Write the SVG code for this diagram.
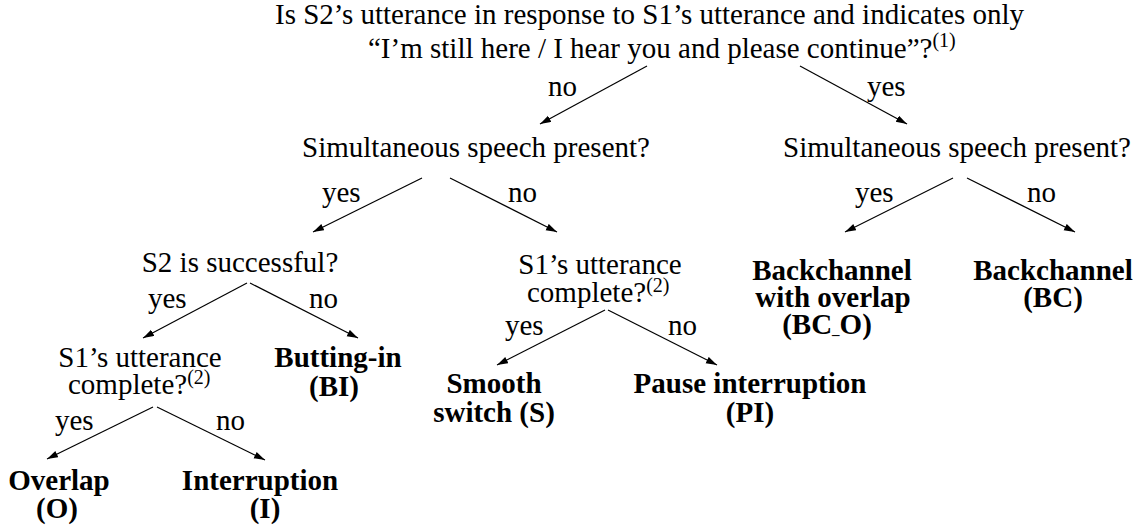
<svg xmlns="http://www.w3.org/2000/svg" width="1142" height="530" viewBox="0 0 1142 530">
  <style>
    text { font-family: "Liberation Serif", "Times New Roman", serif; font-size: 29px; fill: #000; }
    .q { text-anchor: start; }
    .c { text-anchor: middle; }
    .leaf { font-weight: bold; text-anchor: middle; }
    .sup { font-size: 20px; }
    .us { font-size: 15px; }
    .edge { stroke: #000; stroke-width: 1.2; fill: none; marker-end: url(#arrow); }
  </style>
  <defs>
    <marker id="arrow" markerUnits="userSpaceOnUse" markerWidth="12" markerHeight="8" refX="11" refY="3.5" orient="auto">
      <path d="M0,0 L11,3.5 L0,7 z" fill="#000"/>
    </marker>
  </defs>
  <rect width="1142" height="530" fill="#fff"/>

  <!-- decision edges and their yes/no labels -->
  <g id="connectors">
    <line class="edge" x1="647" y1="66" x2="540" y2="124"/>
    <line class="edge" x1="800" y1="66" x2="907" y2="124"/>
    <text class="q" x="548" y="96">no</text>
    <text class="q" x="867" y="96">yes</text>

    <line class="edge" x1="422" y1="178" x2="313" y2="232"/>
    <line class="edge" x1="450" y1="178" x2="557" y2="232"/>
    <text class="q" x="322" y="202">yes</text>
    <text class="q" x="508" y="202">no</text>

    <line class="edge" x1="953" y1="178" x2="845" y2="232"/>
    <line class="edge" x1="967" y1="178" x2="1075" y2="232"/>
    <text class="q" x="855" y="202">yes</text>
    <text class="q" x="1027" y="202">no</text>

    <line class="edge" x1="247" y1="283" x2="143" y2="338"/>
    <line class="edge" x1="250" y1="283" x2="358" y2="338"/>
    <text class="q" x="148" y="308">yes</text>
    <text class="q" x="309" y="308">no</text>

    <line class="edge" x1="153" y1="407" x2="47" y2="459"/>
    <line class="edge" x1="157" y1="407" x2="265" y2="460"/>
    <text class="q" x="55" y="430">yes</text>
    <text class="q" x="216" y="430">no</text>

    <line class="edge" x1="605" y1="310" x2="497" y2="365"/>
    <line class="edge" x1="608" y1="310" x2="717" y2="365"/>
    <text class="q" x="505" y="335">yes</text>
    <text class="q" x="668" y="335">no</text>
  </g>

  <!-- root question -->
  <g id="root">
    <text class="q" x="275" y="24">Is S2’s utterance in response to S1’s utterance and indicates only</text>
    <text class="q" x="368" y="58">“I’m still here / I hear you and please continue”?<tspan class="sup" dy="-11">(1)</tspan></text>
  </g>

  <g id="simultaneous-no">
    <text class="c" x="476" y="157">Simultaneous speech present?</text>
  </g>

  <g id="simultaneous-yes">
    <text class="c" x="957" y="157">Simultaneous speech present?</text>
  </g>

  <g id="s2-successful">
    <text class="c" x="240" y="272">S2 is successful?</text>
  </g>

  <g id="complete-overlap">
    <text class="c" x="140" y="367">S1’s utterance</text>
    <text class="q" x="68" y="394">complete?<tspan class="sup" dy="-10">(2)</tspan></text>
  </g>

  <g id="complete-gap">
    <text class="c" x="600" y="274">S1’s utterance</text>
    <text class="q" x="527" y="302">complete?<tspan class="sup" dy="-10">(2)</tspan></text>
  </g>

  <g id="leaf-butting-in">
    <text class="leaf" x="338" y="367">Butting-in</text>
    <text class="leaf" x="334" y="396">(BI)</text>
  </g>

  <g id="leaf-overlap">
    <text class="leaf" x="59" y="490">Overlap</text>
    <text class="leaf" x="57" y="518">(O)</text>
  </g>

  <g id="leaf-interruption">
    <text class="leaf" x="260" y="490">Interruption</text>
    <text class="leaf" x="265" y="518">(I)</text>
  </g>

  <g id="leaf-smooth-switch">
    <text class="leaf" x="494" y="393">Smooth</text>
    <text class="leaf" x="494" y="422">switch (S)</text>
  </g>

  <g id="leaf-pause-interruption">
    <text class="leaf" x="750" y="393">Pause interruption</text>
    <text class="leaf" x="750" y="422">(PI)</text>
  </g>

  <g id="leaf-backchannel-overlap">
    <text class="leaf" x="832" y="280">Backchannel</text>
    <text class="leaf" x="833" y="307">with overlap</text>
    <text class="leaf" x="827" y="334">(BC<tspan class="us">_</tspan>O)</text>
  </g>

  <g id="leaf-backchannel">
    <text class="leaf" x="1053" y="280">Backchannel</text>
    <text class="leaf" x="1053" y="307">(BC)</text>
  </g>
</svg>
